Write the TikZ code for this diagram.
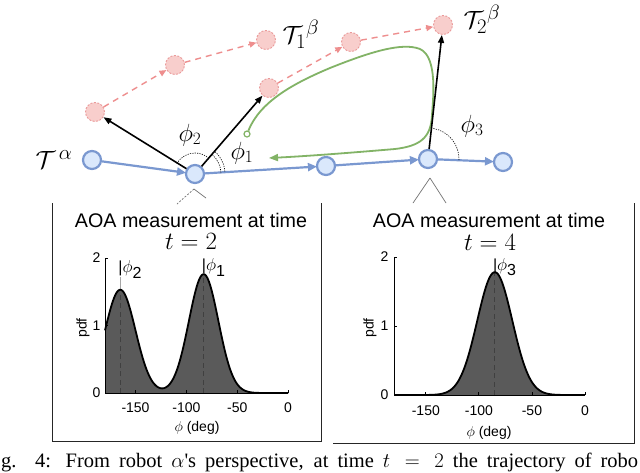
\documentclass[tikz,border=0pt]{standalone}
\usepackage{fontspec}
\setmainfont{Liberation Sans}
\newfontfamily\capfont{Liberation Serif}
\usetikzlibrary{arrows.meta}
\definecolor{bfill}{HTML}{DAE8FC}
\definecolor{bline}{HTML}{7A98D0}
\definecolor{pfill}{HTML}{F8CECC}
\definecolor{pline}{HTML}{EA9A9A}
\definecolor{parrowc}{HTML}{EE8E8E}
\definecolor{gline}{HTML}{82B366}
\definecolor{pdfgray}{HTML}{5A5A5A}
\begin{document}
\begin{tikzpicture}[x=1pt,y=-1pt,
  bnode/.style={circle, minimum size=18pt, inner sep=0pt, fill=bfill, draw=bline, line width=2.2pt},
  pnode/.style={circle, minimum size=19pt, inner sep=0pt, fill=pfill, draw=pline, line width=0.9pt, dash pattern=on 2pt off 1.5pt},
  barrow/.style={draw=bline, line width=2.2pt, -{Triangle[length=9pt,width=8pt]}, shorten >=-1pt},
  pinkarrow/.style={draw=parrowc, line width=1.4pt, dash pattern=on 6pt off 5pt, -{Triangle[length=7pt,width=6pt]}},
  karrow/.style={draw=black, line width=1.6pt, -{Triangle[length=8pt,width=6pt]}},
  garrow/.style={draw=gline, line width=1.8pt, -{Triangle[length=9pt,width=7pt]}},
  gdot/.style={circle, minimum size=6pt, inner sep=0pt, fill=white, draw=gline, line width=1.2pt},
  angarc/.style={draw=black, line width=0.6pt, dash pattern=on 1.2pt off 1.2pt},
  callout/.style={draw=black!55, line width=0.7pt},
  frameline/.style={draw=black!85, line width=1pt},
  biglbl/.style={inner sep=0pt, font=\fontsize{30}{32}\selectfont},
  philbl/.style={inner sep=0pt, font=\fontsize{24}{26}\selectfont},
  titlelbl/.style={inner sep=0pt, anchor=base, font=\fontsize{19.7}{22}\selectfont},
  tlbl/.style={inner sep=0pt, anchor=base, font=\fontsize{24}{26}\selectfont},
  ticklbl/.style={inner sep=0pt, font=\fontsize{14}{15}\selectfont},
  peaklbl/.style={inner sep=0pt, anchor=base west, font=\fontsize{16}{17}\selectfont},
  axisline/.style={draw=black, line width=0.8pt},
  peakdash/.style={draw=black!75, line width=0.9pt, dash pattern=on 5pt off 3.5pt},
  pdfcurve/.style={draw=black, line width=1.8pt}
]
\useasboundingbox (0,0) rectangle (640,472);
\fill[white] (0,0) rectangle (640,472);

% ---------- trajectory nodes ----------
\node[bnode] (b1) at (92,160) {};
\node[bnode] (b2) at (195,174) {};
\node[bnode] (b3) at (326,166) {};
\node[bnode] (b4) at (428,159) {};
\node[bnode] (b5) at (503,162) {};

\node[pnode] (p1) at (95,112) {};
\node[pnode] (p2) at (175,65) {};
\node[pnode] (p3) at (266,40) {};
\node[pnode] (p4) at (269,88) {};
\node[pnode] (p5) at (351,42) {};
\node[pnode] (p6) at (443,25) {};

% blue trajectory
\draw[barrow] (b1) -- (b2);
\draw[barrow] (b2) -- (b3);
\draw[barrow] (b3) -- (b4);
\draw[barrow] (b4) -- (b5);

% pink trajectories
\draw[pinkarrow] (p1) -- (p2);
\draw[pinkarrow] (p2) -- (p3);
\draw[pinkarrow] (p4) -- (p5);
\draw[pinkarrow] (p5) -- (p6);

% green loop
\node[gdot] (g0) at (247,134) {};
\coordinate (gend) at (269,158);
\draw[garrow] (g0) .. controls (260,102) and (292,84) .. (330,68)
  .. controls (370,52) and (402,42) .. (420,49)
  .. controls (438,57) and (433,100) .. (432,115)
  .. controls (431,138) and (420,146) .. (395,149)
  .. controls (360,152) and (310,156) .. (gend);

% black bearing arrows
\draw[karrow] (b2) -- (p1);
\draw[karrow] (b2) -- (p4);
\draw[karrow] (b4) -- (p6);

% angle arcs
\draw[angarc] ([shift={(-150:21)}]b2.center) arc[start angle=-150, end angle=-50, radius=21];
\draw[angarc] ([shift={(-48:26)}]b2.center) arc[start angle=-48, end angle=-3, radius=26];
\draw[angarc] ([shift={(-48:30)}]b2.center) arc[start angle=-48, end angle=-3, radius=30];
\draw[angarc] ([shift={(-80:31)}]b4.center) arc[start angle=-80, end angle=2, radius=31];

% labels
\node[biglbl] (la) at (54,160) {$\mathcal{T}^{\,\alpha}$};
\node[biglbl] (l1) at (301,34) {${\mathcal{T}_1}^{\beta}$};
\node[biglbl] (l2) at (482,19) {${\mathcal{T}_2}^{\beta}$};
\node[philbl] (f2) at (190,135) {$\phi_2$};
\node[philbl] (f1) at (242,153) {$\phi_1$};
\node[philbl] (f3) at (472,126) {$\phi_3$};

% callouts
\coordinate (c2) at (194,189);
\coordinate (c2l) at (177,204);
\coordinate (c2r) at (206,198);
\draw[callout, dash pattern=on 2pt off 1.5pt] (c2) -- (c2l);
\draw[callout] (c2) -- (c2r);
\coordinate (c4) at (430,178);
\coordinate (c4l) at (413,203);
\coordinate (c4r) at (446,203);
\draw[callout] (c4) -- (c4l);
\draw[callout] (c4) -- (c4r);

% frames
\draw[frameline] (52,203) -- (52,441) -- (321,441) -- (321,203);
\draw[frameline] (333,443) -- (634,443) -- (634,203);

% titles
\node[titlelbl] (t1a) at (191,227) {AOA measurement at time};
\node[tlbl] (t1b) at (191,249) {$t=2$};
\node[titlelbl] (t2a) at (489,227) {AOA measurement at time};
\node[tlbl] (t2b) at (490,250) {$t=4$};

% ---------- left plot ----------
\begin{scope}[shift={(105,393)}, x=1.017pt, y=67.5pt]
  \fill[pdfgray] (0,0) -- plot[domain=0:180, samples=181]
    (\x, {1.53*exp(max(-0.5*((\x-15)/15)^2,-12))+1.76*exp(max(-0.5*((\x-97)/14.5)^2,-12))}) -- (180,0) -- cycle;
  \draw[peakdash] (15,0) -- (15,1.53);
  \draw[peakdash] (97,0) -- (97,1.77);
  \draw[draw=black!35, line width=0.6pt] (15,1.53) -- (15,1.72);
  \draw[pdfcurve] plot[domain=0:180, samples=181]
    (\x, {1.53*exp(max(-0.5*((\x-15)/15)^2,-12))+1.76*exp(max(-0.5*((\x-97)/14.5)^2,-12))});
  \draw[axisline] (0,2) -- (0,0) -- (180,0);
  \foreach \yy in {0,1,2} \draw[axisline] (0,\yy) -- ++(3pt,0);
  \foreach \uu in {30,80,130,180} \draw[axisline] (\uu,0) -- ++(0,3pt);
  \node[ticklbl, anchor=east] (ly0) at ([xshift=-4.5pt]0,0) {0};
  \node[ticklbl, anchor=east] (ly1) at ([xshift=-4.5pt]0,1) {1};
  \node[ticklbl, anchor=east] (ly2) at ([xshift=-4.5pt]0,2) {2};
  \node[ticklbl, anchor=north] (lx1) at ([yshift=-10pt]30,0) {-150};
  \node[ticklbl, anchor=north] (lx2) at ([yshift=-10pt]80,0) {-100};
  \node[ticklbl, anchor=north] (lx3) at ([yshift=-10pt]130,0) {-50};
  \node[ticklbl, anchor=north] (lx4) at ([yshift=-10pt]180,0) {0};
  \node[peaklbl] (pk2) at ([xshift=-2pt]15,1.78) {|$\phi$\raisebox{-0.35em}{2}};
  \node[peaklbl] (pk1) at ([xshift=-2pt]97,1.81) {|$\phi$\raisebox{-0.35em}{1}};
\end{scope}
\node[ticklbl, rotate=90] (lpdf1) at (83,328) {pdf};
\node[ticklbl] (lphi1) at (197,428) {$\phi$ (deg)};

% ---------- right plot ----------
\begin{scope}[shift={(394,395)}, x=1.061pt, y=69pt]
  \fill[pdfgray] (0,0) -- plot[domain=0:180, samples=181]
    (\x, {1.78*exp(max(-0.5*((\x-95)/16.5)^2,-12))}) -- (180,0) -- cycle;
  \draw[peakdash] (95,0) -- (95,1.78);
  \draw[pdfcurve] plot[domain=0:180, samples=181]
    (\x, {1.78*exp(max(-0.5*((\x-95)/16.5)^2,-12))});
  \draw[axisline] (0,2) -- (0,0) -- (180,0);
  \foreach \yy in {0,1,2} \draw[axisline] (0,\yy) -- ++(3pt,0);
  \foreach \uu in {30,80,130,180} \draw[axisline] (\uu,0) -- ++(0,3pt);
  \node[ticklbl, anchor=east] (ry0) at ([xshift=-5.5pt]0,0) {0};
  \node[ticklbl, anchor=east] (ry1) at ([xshift=-5.5pt]0,1) {1};
  \node[ticklbl, anchor=east] (ry2) at ([xshift=-5.5pt]0,2) {2};
  \node[ticklbl, anchor=north] (rx1) at ([yshift=-11pt]30,0) {-150};
  \node[ticklbl, anchor=north] (rx2) at ([yshift=-11pt]80,0) {-100};
  \node[ticklbl, anchor=north] (rx3) at ([yshift=-11pt]130,0) {-50};
  \node[ticklbl, anchor=north] (rx4) at ([yshift=-11pt]180,0) {0};
  \node[peaklbl] (pk3) at ([xshift=-2pt]95,1.81) {|$\phi$\raisebox{-0.35em}{3}};
\end{scope}
\node[ticklbl, rotate=90] (rpdf) at (370,328) {pdf};
\node[ticklbl] (rphi) at (489,433) {$\phi$ (deg)};

% ---------- caption (cropped) ----------
\node[inner sep=0pt, anchor=base west, font=\capfont\fontsize{20.5}{22}\selectfont] (cap) at (1,467)
  {\makebox[637pt][s]{g. 4: From robot $\alpha$'s perspective, at time $t=2$ the trajectory of robo}};
\end{tikzpicture}
\end{document}
